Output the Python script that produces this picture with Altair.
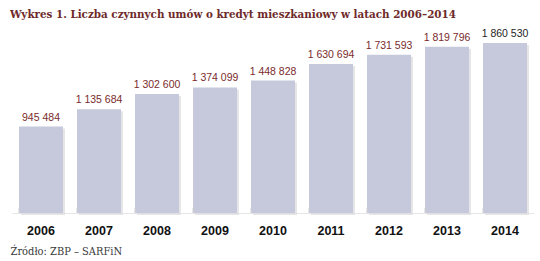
import altair as alt
import pandas as pd

years = ["2006", "2007", "2008", "2009", "2010", "2011", "2012", "2013", "2014"]
values = [945484, 1135684, 1302600, 1374099, 1448828, 1630694, 1731593, 1819796, 1860530]
labels = ["945 484", "1 135 684", "1 302 600", "1 374 099", "1 448 828",
          "1 630 694", "1 731  593", "1 819 796", "1 860 530"]
label_colors = ["#7a2b2b"] * 8 + ["#1e1e1e"]

df = pd.DataFrame({"year": years, "value": values, "label": labels, "lc": label_colors})

x = alt.X("year:N", sort=years,
          scale=alt.Scale(paddingInner=0.24, paddingOuter=0.12),
          axis=alt.Axis(title="Źródło: ZBP – SARFiN", titleAnchor="start", titleAlign="left",
                        titleX=-2, titleY=32, titleFont="DejaVu Serif Condensed",
                        titleFontSize=11, titleFontWeight="normal", titleColor="#3a3a3a",
                        labelAngle=0, labelFont="Liberation Sans", labelFontSize=12.5,
                        labelFontWeight="bold", labelColor="#111111", labelPadding=11,
                        ticks=False, domain=True, domainColor="#e6e6e6", domainWidth=1))
y = alt.Y("value:Q", scale=alt.Scale(domain=[0, 1860530], nice=False, zero=True), axis=None)

base = alt.Chart(df)

# soft drop shadow behind each bar
shadow = base.mark_bar(size=44, color="#dcdce0", opacity=0.7, xOffset=2, yOffset=2).encode(x=x, y=y)
bars = base.mark_bar(size=44, color="#c6c9db").encode(x=x, y=y)
# small tick marks at the band boundaries, rising from the baseline
ticks = base.mark_rule(color="#d4d4d4", strokeWidth=1).encode(
    x=alt.X("year:N", sort=years, bandPosition=0), y=alt.value(165), y2=alt.value(170))
text = base.mark_text(baseline="bottom", dy=-4, font="Liberation Sans", fontSize=10.5).encode(
    x=x, y=y, text="label:N", color=alt.Color("lc:N", scale=None))

chart = alt.layer(shadow, bars, ticks, text).properties(
    width=522, height=170,
    background="white",
    title=alt.TitleParams("Wykres 1. Liczba czynnych umów o kredyt mieszkaniowy w latach 2006–2014",
                          anchor="start", frame="group", dx=-2, offset=9,
                          font="DejaVu Serif Condensed", fontSize=11.5, fontWeight="bold",
                          color="#6e2a2a"),
    autosize=alt.AutoSizeParams(type="none"),
    padding={"left": 12, "top": 43, "right": 6, "bottom": 48},
).configure_view(stroke=None)

chart.save("out.html", embed_options={"renderer": "svg", "actions": False})
